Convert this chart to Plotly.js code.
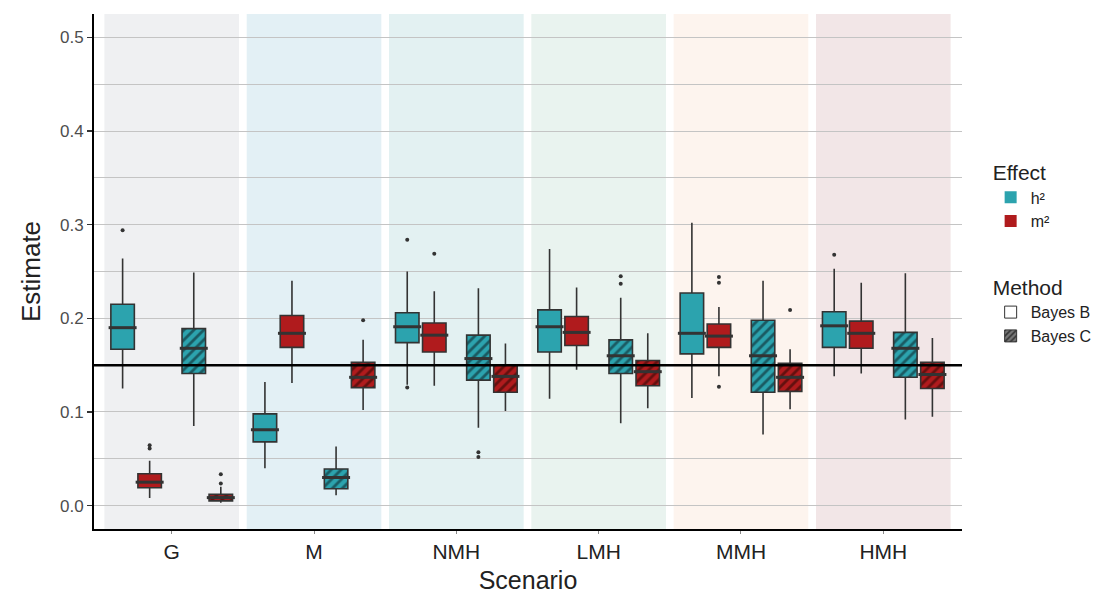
<!DOCTYPE html>
<html>
<head>
<meta charset="utf-8">
<script src="https://cdn.plot.ly/plotly-3.0.1.min.js"></script>
<style>html,body{margin:0;padding:0;background:#fff;}#chart{width:1097px;height:594px;}</style>
</head>
<body>
<div id="chart"></div>
<script>
// ---------- data ----------
const scenarios = ['G', 'M', 'NMH', 'LMH', 'MMH', 'HMH'];
const bgColors = ['#eff0f2', '#e3f0f5', '#e3f1f2', '#e9f3ef', '#fdf4ee', '#f2e6e7'];
const refValue = 0.15;

// Bayes B, h²
const bbH2_lo  = [0.125, 0.040, 0.129, 0.114, 0.115, 0.138];
const bbH2_q1  = [0.167, 0.068, 0.174, 0.164, 0.162, 0.169];
const bbH2_med = [0.190, 0.081, 0.191, 0.191, 0.184, 0.192];
const bbH2_q3  = [0.215, 0.098, 0.206, 0.209, 0.227, 0.207];
const bbH2_hi  = [0.264, 0.132, 0.250, 0.274, 0.302, 0.253];
const bbH2_out = [[0.294], [], [0.284, 0.126], [], [], [0.268]];

// Bayes B, m²
const bbM2_lo  = [0.008, 0.131, 0.128, 0.145, 0.138, 0.141];
const bbM2_q1  = [0.019, 0.169, 0.164, 0.171, 0.169, 0.168];
const bbM2_med = [0.025, 0.184, 0.182, 0.185, 0.181, 0.184];
const bbM2_q3  = [0.034, 0.203, 0.195, 0.202, 0.194, 0.197];
const bbM2_hi  = [0.048, 0.240, 0.229, 0.233, 0.212, 0.238];
const bbM2_out = [[0.0645, 0.061], [], [0.269], [], [0.244, 0.238, 0.127], []];

// Bayes C, h²
const bcH2_lo  = [0.085, 0.011, 0.083, 0.088, 0.076, 0.092];
const bcH2_q1  = [0.141, 0.018, 0.134, 0.141, 0.121, 0.137];
const bcH2_med = [0.168, 0.030, 0.157, 0.160, 0.160, 0.168];
const bcH2_q3  = [0.189, 0.039, 0.182, 0.177, 0.198, 0.185];
const bcH2_hi  = [0.249, 0.063, 0.232, 0.222, 0.240, 0.248];
const bcH2_out = [[], [], [0.057, 0.052], [0.245, 0.237], [], []];

// Bayes C, m²
const bcM2_lo  = [0.003, 0.102, 0.101, 0.104, 0.103, 0.095];
const bcM2_q1  = [0.005, 0.126, 0.121, 0.128, 0.122, 0.125];
const bcM2_med = [0.0085, 0.137, 0.138, 0.143, 0.137, 0.140];
const bcM2_q3  = [0.012, 0.153, 0.150, 0.155, 0.152, 0.153];
const bcM2_hi  = [0.020, 0.177, 0.173, 0.184, 0.167, 0.179];
const bcM2_out = [[0.0335, 0.0235], [0.198], [], [], [0.209], []];

// ---------- style ----------
const TEAL = '#2ca3ae', TEAL_DK = '#1a5a62';
const RED = '#b01b1d', RED_DK = '#64100f';
const EDGE = '#333333';
const BOXW = 0.165;
const FONT = 'Liberation Sans, Arial, sans-serif';

const groups = [
  {lo: bbH2_lo, q1: bbH2_q1, med: bbH2_med, q3: bbH2_q3, hi: bbH2_hi, out: bbH2_out, off: -0.345, color: TEAL, dark: TEAL_DK, hatch: false},
  {lo: bbM2_lo, q1: bbM2_q1, med: bbM2_med, q3: bbM2_q3, hi: bbM2_hi, out: bbM2_out, off: -0.155, color: RED, dark: RED_DK, hatch: false},
  {lo: bcH2_lo, q1: bcH2_q1, med: bcH2_med, q3: bcH2_q3, hi: bcH2_hi, out: bcH2_out, off: 0.155, color: TEAL, dark: TEAL_DK, hatch: true},
  {lo: bcM2_lo, q1: bcM2_q1, med: bcM2_med, q3: bcM2_q3, hi: bcM2_hi, out: bcM2_out, off: 0.345, color: RED, dark: RED_DK, hatch: true}
];

const traces = [];
groups.forEach(g => {
  const xs = scenarios.map((_, i) => i + 1 + g.off);
  if (g.hatch) {
    traces.push({
      type: 'bar', x: xs, base: g.q1, y: g.q3.map((v, i) => v - g.q1[i]),
      width: BOXW, showlegend: false, hoverinfo: 'skip',
      marker: {color: g.color, line: {width: 0},
        pattern: {shape: '/', fgcolor: g.dark, bgcolor: g.color, size: 7, solidity: 0.4}}
    });
  }
  traces.push({
    type: 'box', x: xs, q1: g.q1, median: g.med, q3: g.q3,
    lowerfence: g.lo, upperfence: g.hi, width: BOXW, whiskerwidth: 0,
    boxpoints: false, showlegend: false, hoverinfo: 'skip',
    fillcolor: g.hatch ? 'rgba(0,0,0,0)' : g.color,
    line: {color: EDGE, width: 1.6}
  });
  // thicker median bar
  traces.push({
    type: 'scatter', mode: 'markers', x: xs, y: g.med, showlegend: false, hoverinfo: 'skip',
    marker: {symbol: 'line-ew', size: 20, line: {color: EDGE, width: 3}}
  });
  // outliers
  const ox = [], oy = [];
  g.out.forEach((arr, i) => arr.forEach(v => { ox.push(i + 1 + g.off); oy.push(v); }));
  traces.push({
    type: 'scatter', mode: 'markers', x: ox, y: oy, showlegend: false, hoverinfo: 'skip',
    marker: {color: EDGE, size: 4}
  });
});

// legend entries
traces.push({type: 'bar', x: [null], y: [null], name: 'h²', legend: 'legend',
  marker: {color: TEAL, line: {color: TEAL, width: 0}}});
traces.push({type: 'bar', x: [null], y: [null], name: 'm²', legend: 'legend',
  marker: {color: RED, line: {color: RED, width: 0}}});
traces.push({type: 'box', x: [null], y: [null], name: 'Bayes B', legend: 'legend2',
  fillcolor: '#ffffff', line: {color: EDGE, width: 1}});
traces.push({type: 'bar', x: [null], y: [null], name: 'Bayes C', legend: 'legend2',
  marker: {color: '#777777', line: {color: EDGE, width: 1},
    pattern: {shape: '/', fgcolor: '#333333', bgcolor: '#777777', size: 5, solidity: 0.4}}});

const shapes = scenarios.map((s, i) => ({
  type: 'rect', xref: 'x', yref: 'paper', x0: i + 1 - 0.473, x1: i + 1 + 0.473, y0: 0, y1: 1,
  fillcolor: bgColors[i], line: {width: 0}, layer: 'below'
}));
shapes.push({type: 'line', xref: 'paper', yref: 'y', x0: 0, x1: 1, y0: refValue, y1: refValue,
  line: {color: '#000000', width: 2.5}, layer: 'above'});

const layout = {
  width: 1097, height: 594,
  margin: {l: 94, r: 135, t: 14, b: 65, autoexpand: false},
  paper_bgcolor: '#ffffff', plot_bgcolor: '#ffffff',
  font: {family: FONT, color: '#222222'},
  barmode: 'overlay', boxmode: 'overlay',
  showlegend: true,
  xaxis: {
    range: [0.454, 6.553], tickvals: scenarios.map((_, i) => i + 1), ticktext: scenarios,
    showgrid: false, zeroline: false, showline: true, linecolor: '#000000', linewidth: 2,
    ticks: 'outside', ticklen: 3, tickcolor: '#888888', tickwidth: 1,
    tickfont: {size: 21, color: '#222222'}, automargin: false,
    title: {text: 'Scenario', font: {size: 25, color: '#222222'}, standoff: 10}
  },
  yaxis: {
    range: [-0.025, 0.525], dtick: 0.1, tick0: 0, tickformat: '.1f',
    showgrid: true, gridcolor: '#c4c4c4', gridwidth: 1,
    minor: {dtick: 0.05, showgrid: true, gridcolor: '#c4c4c4', gridwidth: 1, ticks: ''},
    zeroline: false, showline: true, linecolor: '#000000', linewidth: 2,
    ticks: 'outside', ticklen: 5, tickcolor: '#333333', tickwidth: 1.5,
    tickfont: {size: 17, color: '#4d4d4d'}, automargin: false,
    title: {text: 'Estimate', font: {size: 26, color: '#222222'}, standoff: 12}
  },
  legend: {
    x: 1.033, y: 0.73, xanchor: 'left', yanchor: 'top', bgcolor: 'rgba(0,0,0,0)',
    title: {text: 'Effect', font: {size: 21, color: '#222222'}},
    font: {size: 16, color: '#222222'}, tracegroupgap: 0, itemwidth: 30
  },
  legend2: {
    x: 1.033, y: 0.507, xanchor: 'left', yanchor: 'top', bgcolor: 'rgba(0,0,0,0)',
    title: {text: 'Method', font: {size: 21, color: '#222222'}},
    font: {size: 16, color: '#222222'}, tracegroupgap: 0, itemwidth: 30
  },
  shapes: shapes,
  hovermode: false
};

Plotly.newPlot('chart', traces, layout, {staticPlot: true, displayModeBar: false});
</script>
</body>
</html>
